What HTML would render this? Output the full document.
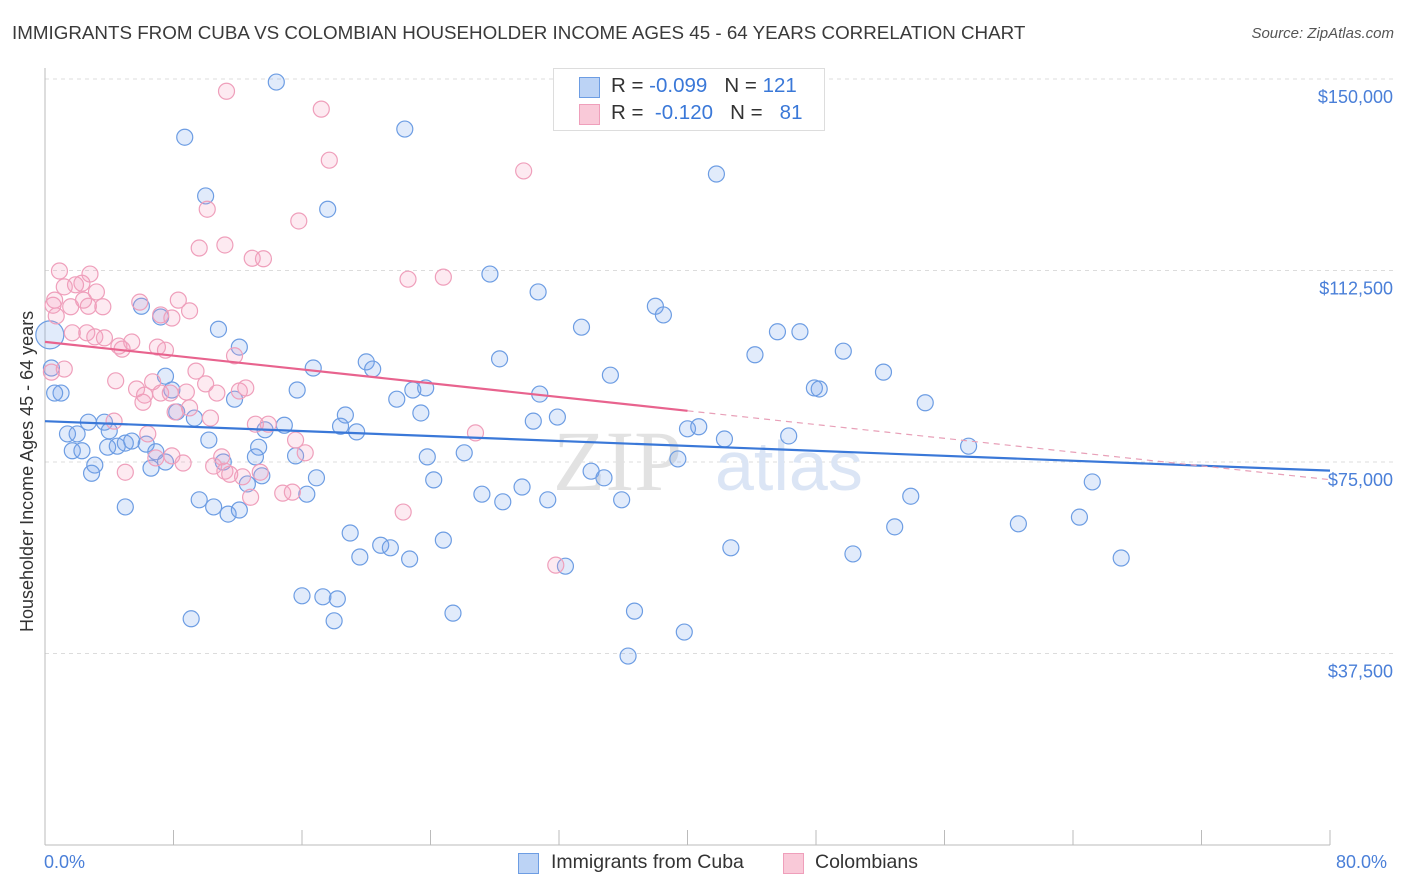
<!DOCTYPE html>
<html><head><meta charset="utf-8">
<style>
body{margin:0;background:#fff;font-family:"Liberation Sans",sans-serif;}
#wrap{position:relative;width:1406px;height:892px;overflow:hidden;}
.t{position:absolute;white-space:nowrap;}
</style></head>
<body>
<div id="wrap">
<div class="t" style="left:12px;top:22px;font-size:18.8px;color:#3a3a3a;">IMMIGRANTS FROM CUBA VS COLOMBIAN HOUSEHOLDER INCOME AGES 45 - 64 YEARS CORRELATION CHART</div>
<div class="t" style="right:12px;top:25px;font-size:15px;color:#555;font-style:italic;">Source: ZipAtlas.com</div>
<svg id="svg" width="1406" height="892" style="position:absolute;left:0;top:0"></svg>
</div>
<script>
const yTicks=[37500,75000,112500,150000];
const yTickLabels=["$37,500","$75,000","$112,500","$150,000"];
const xTicks=[0,8,16,24,32,40,48,56,64,72,80];
const blueX=[14.4,8.7,22.4,41.8,10.0,17.6,27.7,30.7,38.0,38.5,33.4,7.2,6.0,10.8,12.1,45.6,47.0,44.2,49.7,28.3,20.0,20.4,16.7,35.2,52.2,47.9,48.2,54.8,15.7,22.9,23.7,21.9,23.4,30.8,30.4,31.9,18.7,18.4,19.4,14.9,13.7,11.8,7.9,7.5,8.2,9.3,1.0,0.6,0.4,0.3,2.7,3.7,1.4,2.0,1.7,2.3,3.1,2.9,3.9,4.5,5.0,5.4,6.3,6.9,7.5,6.6,10.2,11.1,13.3,13.1,13.5,12.6,15.6,16.9,16.3,9.6,10.5,11.4,12.1,5.0,23.8,24.2,26.1,27.2,28.5,29.7,31.3,34.0,34.8,35.9,39.4,40.0,40.7,42.3,46.3,57.5,65.2,53.9,52.9,60.6,64.4,67.0,50.3,42.7,24.8,19.0,19.6,20.9,21.5,22.7,32.4,36.7,25.4,39.8,36.3,16.0,17.3,18.2,18.0,9.1,4.0];
const blueY=[149.4,138.6,140.2,131.4,127.1,124.5,111.8,108.3,105.5,103.8,101.4,103.4,105.5,101.0,97.5,100.5,100.5,96.0,96.7,95.2,94.6,93.2,93.4,92.0,92.6,89.5,89.3,86.6,89.1,89.1,89.5,87.3,84.6,88.3,83.0,83.8,84.2,82.0,80.9,82.2,81.3,87.3,89.1,91.8,84.8,83.6,88.5,88.5,93.4,99.9,82.8,82.8,80.5,80.5,77.2,77.2,74.4,72.8,77.9,78.1,78.7,79.1,78.5,77.0,75.0,73.8,79.3,75.0,77.9,76.0,72.3,70.7,76.2,71.9,68.7,67.6,66.2,64.8,65.6,66.2,76.0,71.5,76.8,68.7,67.2,70.1,67.6,73.2,71.9,67.6,75.6,81.5,81.9,79.5,80.1,78.1,71.1,68.3,62.3,62.9,64.2,56.2,57.0,58.2,59.7,61.1,56.4,58.7,58.2,56.0,54.6,45.8,45.4,41.7,37.0,48.8,48.6,48.2,43.9,44.3,81.1];
const pinkX=[11.3,17.2,17.7,29.8,10.1,15.8,9.6,11.2,12.9,13.6,22.6,24.8,0.9,2.8,2.3,1.9,1.2,0.6,1.6,3.2,3.6,2.4,0.7,1.7,2.6,3.1,3.7,2.7,5.9,8.3,9.0,7.2,7.9,4.8,4.6,5.4,7.0,7.5,11.8,9.4,0.4,1.2,4.4,6.7,10.0,5.7,6.2,6.1,7.2,7.8,8.8,10.7,12.1,12.5,8.1,9.0,10.3,4.3,6.4,13.1,13.9,15.6,16.2,26.8,6.9,7.9,8.6,11.0,10.5,11.2,12.3,11.5,13.4,5.0,12.8,14.8,15.4,22.3,31.8,0.5];
const pinkY=[147.6,144.1,134.1,132.0,124.5,122.2,116.9,117.5,114.9,114.8,110.8,111.2,112.4,111.8,110.0,109.7,109.3,106.7,105.4,108.3,105.4,106.7,103.6,100.3,100.3,99.5,99.3,105.5,106.3,106.7,104.6,103.8,103.2,97.1,97.7,98.5,97.5,96.9,95.8,92.8,92.6,93.2,90.9,90.7,90.3,89.3,88.1,86.7,88.5,88.5,88.7,88.5,88.9,89.5,84.8,85.6,83.6,83.0,80.5,82.4,82.4,79.3,76.8,80.7,75.8,76.2,74.8,76.0,74.2,73.2,72.1,72.6,73.0,73.0,68.1,68.9,69.1,65.2,54.8,105.7];

const NS="http://www.w3.org/2000/svg";
const svg=document.getElementById('svg');
const X0=45,X1=1330,Y0=845,YPER=191.5/37500;
function sx(p){return X0+(p/80)*(X1-X0);}
function sy(v){return Y0-v*YPER;}
function mk(tag,attrs){const e=document.createElementNS(NS,tag);for(const k in attrs)e.setAttribute(k,attrs[k]);svg.appendChild(e);return e;}

yTicks.forEach((v,i)=>{
  const g=mk('line',{x1:X0,x2:1395,y1:sy(v),y2:sy(v),stroke:'#dcdcdc','stroke-dasharray':'4,4'});
  
  
  const t=mk('text',{x:1393,y:sy(v)+24,'text-anchor':'end','font-size':'18','fill':'#4a7fd8'});
  t.textContent=yTickLabels[i];
  
  
});
const ax=mk('line',{x1:X0,x2:X0,y1:68,y2:Y0,stroke:'#bbb'});


const bx=mk('line',{x1:X0,x2:X1,y1:Y0,y2:Y0,stroke:'#bbb'});


xTicks.forEach(p=>{
  const l=mk('line',{x1:sx(p),x2:sx(p),y1:830,y2:Y0,stroke:'#bbb'});
  
  
});
const wm=mk('text',{x:553,y:490,'font-size':'86','fill':'#e2e2e2','font-family':'Liberation Serif, serif'});
wm.textContent='ZIP';


const wm2=mk('text',{x:715,y:490,'font-size':'70','fill':'#dbe5f5'});
wm2.textContent='atlas';



function reg(xs,ys){const n=xs.length;let mx=0,my=0;for(let i=0;i<n;i++){mx+=xs[i];my+=ys[i];}mx/=n;my/=n;let a=0,b=0;for(let i=0;i<n;i++){a+=(xs[i]-mx)*(ys[i]-my);b+=(xs[i]-mx)**2;}const s=a/b;return [my-s*mx,s];}

blueX.forEach((x,i)=>{
  const c=mk('circle',{cx:sx(x),cy:sy(blueY[i]*1000),r:(i===49?14:8),fill:'rgba(120,165,235,0.22)',stroke:'#6d9de3','stroke-width':1.2});
  
  
});
pinkX.forEach((x,i)=>{
  const c=mk('circle',{cx:sx(x),cy:sy(pinkY[i]*1000),r:8,fill:'rgba(245,160,190,0.22)',stroke:'#ef9fbb','stroke-width':1.2});
  
  
});
const rb=reg(blueX,blueY);
const bl=mk('line',{x1:sx(0),y1:sy(rb[0]*1000),x2:sx(80),y2:sy((rb[0]+rb[1]*80)*1000),stroke:'#3a78d8','stroke-width':2.2});


const rp=reg(pinkX,pinkY);
const pl=mk('line',{x1:sx(0),y1:sy(rp[0]*1000),x2:sx(40),y2:sy((rp[0]+rp[1]*40)*1000),stroke:'#e8638e','stroke-width':2.2});


const pd=mk('line',{x1:sx(40),y1:sy((rp[0]+rp[1]*40)*1000),x2:sx(80),y2:sy((rp[0]+rp[1]*80)*1000),stroke:'#e8a0b8','stroke-width':1.2,'stroke-dasharray':'6,5'});


</script>
<div class="t" style="left:17px;top:632px;transform:rotate(-90deg);transform-origin:0 0;font-size:18px;color:#333;">Householder Income Ages 45 - 64 years</div>
<div class="t" style="left:44px;top:852px;font-size:18px;color:#4a7fd8;">0.0%</div>
<div class="t" style="left:1336px;top:852px;font-size:18px;color:#4a7fd8;">80.0%</div>
<div class="t" style="left:553px;top:68px;width:270px;height:61px;border:1px solid #ddd;background:#fff;">
 <div style="position:absolute;left:25px;top:8px;width:19px;height:19px;background:#bcd3f5;border:1px solid #6d9de3;"></div>
 <div style="position:absolute;left:57px;top:5px;font-size:20.5px;color:#333;">R = <span style="color:#3a78d8">-0.099</span>&nbsp;&nbsp;&nbsp;N = <span style="color:#3a78d8">121</span></div>
 <div style="position:absolute;left:25px;top:35px;width:19px;height:19px;background:#f9c9d8;border:1px solid #ef9fbb;"></div>
 <div style="position:absolute;left:57px;top:32px;font-size:20.5px;color:#333;">R = &nbsp;<span style="color:#3a78d8">-0.120</span>&nbsp;&nbsp;&nbsp;N = &nbsp;&nbsp;<span style="color:#3a78d8">81</span></div>
</div>
<div class="t" style="left:518px;top:853px;width:21px;height:21px;background:#bcd3f5;border:1px solid #6d9de3;box-sizing:border-box;"></div>
<div class="t" style="left:551px;top:851px;font-size:19.5px;color:#333;">Immigrants from Cuba</div>
<div class="t" style="left:783px;top:853px;width:21px;height:21px;background:#f9c9d8;border:1px solid #ef9fbb;box-sizing:border-box;"></div>
<div class="t" style="left:815px;top:851px;font-size:19.5px;color:#333;">Colombians</div>
</body></html>
